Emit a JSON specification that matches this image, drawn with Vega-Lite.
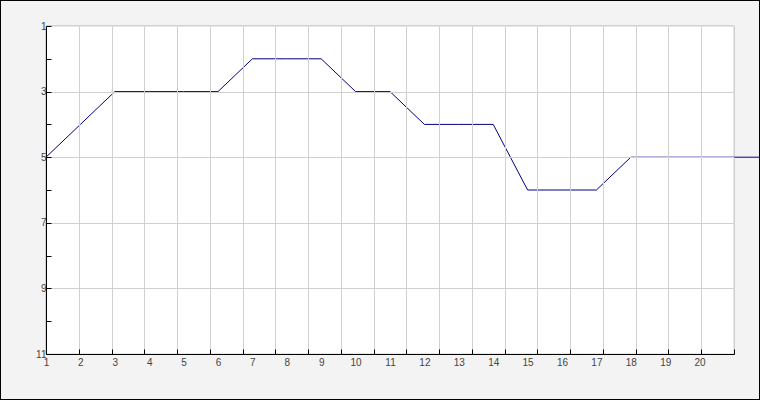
{
  "$schema": "https://vega.github.io/schema/vega-lite/v6.json",
  "width": 760,
  "height": 400,
  "autosize": "none",
  "padding": 0,
  "background": "#f3f3f3",
  "config": {
    "view": {"stroke": "#000000", "strokeWidth": 2, "fill": "#f3f3f3"},
    "axis": {
      "labelFont": "Liberation Sans",
      "labelFontSize": 10,
      "labelColor": "#444444",
      "domainColor": "#000000",
      "tickColor": "#000000",
      "tickSize": -5,
      "gridColor": "#d0d0d0",
      "labelFlush": false,
      "labelOverlap": false,
      "title": null
    }
  },
  "data": {
    "values": [
      {"round": 1, "rank": 5},
      {"round": 2, "rank": 4},
      {"round": 3, "rank": 3},
      {"round": 4, "rank": 3},
      {"round": 5, "rank": 3},
      {"round": 6, "rank": 3},
      {"round": 7, "rank": 2},
      {"round": 8, "rank": 2},
      {"round": 9, "rank": 2},
      {"round": 10, "rank": 3},
      {"round": 11, "rank": 3},
      {"round": 12, "rank": 4},
      {"round": 13, "rank": 4},
      {"round": 14, "rank": 4},
      {"round": 15, "rank": 6},
      {"round": 16, "rank": 6},
      {"round": 17, "rank": 6},
      {"round": 18, "rank": 5},
      {"round": 19, "rank": 5},
      {"round": 20, "rank": 5},
      {"round": 21, "rank": 5},
      {"round": 22, "rank": 5}
    ]
  },
  "resolve": {
    "scale": {"x": "independent"},
    "axis": {"x": "independent", "y": "independent"}
  },
  "layer": [
    {
      "mark": {"type": "rect", "fill": "#ffffff", "stroke": "#d0d0d0", "strokeWidth": 1},
      "encoding": {
        "x": {
          "datum": 1,
          "type": "quantitative",
          "scale": {"domain": [1, 22], "range": [46, 734], "nice": false, "zero": false},
          "axis": {
            "orient": "top",
            "offset": 0,
            "values": [2, 3, 4, 5, 6, 7, 8, 9, 10, 11, 12, 13, 14, 15, 16, 17, 18, 19, 20, 21],
            "grid": true,
            "domain": false,
            "ticks": false,
            "labels": false,
            "zindex": 1
          }
        },
        "x2": {"datum": 22},
        "y": {
          "datum": 1,
          "type": "quantitative",
          "scale": {"domain": [1, 11], "range": [26, 354], "nice": false, "zero": false},
          "axis": {
            "orient": "left",
            "offset": 0,
            "values": [3, 5, 7, 9],
            "grid": true,
            "domain": false,
            "ticks": false,
            "labels": false,
            "zindex": 1
          }
        },
        "y2": {"datum": 11}
      }
    },
    {
      "mark": {"type": "rule", "opacity": 0},
      "encoding": {
        "x": {
          "datum": 1,
          "type": "quantitative",
          "scale": {"domain": [1, 22], "range": [46, 734], "nice": false, "zero": false},
          "axis": {
            "orient": "bottom",
            "offset": -46,
            "values": [1, 2, 3, 4, 5, 6, 7, 8, 9, 10, 11, 12, 13, 14, 15, 16, 17, 18, 19, 20, 21, 22],
            "grid": false,
            "domain": true,
            "ticks": true,
            "labels": false,
            "zindex": 3
          }
        }
      }
    },
    {
      "mark": {"type": "line", "color": "#000080", "strokeWidth": 1, "clip": false, "zindex": 2},
      "encoding": {
        "x": {
          "field": "round",
          "type": "quantitative",
          "scale": {"domain": [1, 21], "range": [46, 734], "nice": false, "zero": false},
          "axis": {
            "orient": "bottom",
            "offset": -46,
            "values": [1, 2, 3, 4, 5, 6, 7, 8, 9, 10, 11, 12, 13, 14, 15, 16, 17, 18, 19, 20],
            "format": "d",
            "labelPadding": 3,
            "grid": false,
            "domain": false,
            "ticks": false,
            "zindex": 3
          }
        },
        "y": {
          "field": "rank",
          "type": "quantitative",
          "axis": {
            "orient": "left",
            "offset": -46,
            "values": [1, 2, 3, 4, 5, 6, 7, 8, 9, 10, 11],
            "format": "d",
            "labelExpr": "datum.value % 2 == 0 ? '' : datum.label",
            "labelPadding": 5,
            "grid": false,
            "zindex": 3
          }
        }
      }
    }
  ]
}
